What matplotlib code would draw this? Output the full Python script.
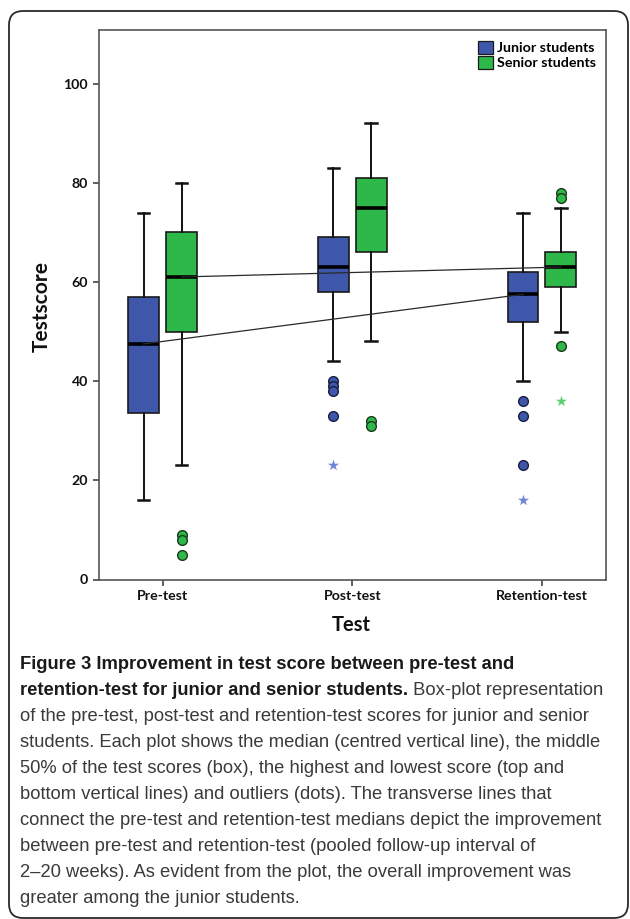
import matplotlib
matplotlib.use("Agg")
import matplotlib.pyplot as plt
import matplotlib.patches as mpatches
import matplotlib.transforms as mtrans
import numpy as np

# ---------------- data ----------------
tests = ["Pre-test", "Post-test", "Retention-test"]
groups = ["Junior students", "Senior students"]

junior_whislo = [16, 44, 40]
junior_q1 = [33.5, 58, 52]
junior_med = [47.5, 63, 57.5]
junior_q3 = [57, 69, 62]
junior_whishi = [74, 83, 74]
junior_outliers = [[], [40, 39, 38, 33], [36, 33, 23]]
junior_extremes = [[], [23], [16]]

senior_whislo = [23, 48, 50]
senior_q1 = [50, 66, 59]
senior_med = [61, 75, 63]
senior_q3 = [70, 81, 66]
senior_whishi = [80, 92, 75]
senior_outliers = [[9, 8, 5], [32, 31], [78, 77, 47]]
senior_extremes = [[], [], [36]]

yticks = [0, 20, 40, 60, 80, 100]

caption_lines = [
    [("Figure 3 Improvement in test score between pre-test and", "bold")],
    [("retention-test for junior and senior students.", "bold"), (" Box-plot representation", "normal")],
    [("of the pre-test, post-test and retention-test scores for junior and senior", "normal")],
    [("students. Each plot shows the median (centred vertical line), the middle", "normal")],
    [("50% of the test scores (box), the highest and lowest score (top and", "normal")],
    [("bottom vertical lines) and outliers (dots). The transverse lines that", "normal")],
    [("connect the pre-test and retention-test medians depict the improvement", "normal")],
    [("between pre-test and retention-test (pooled follow-up interval of", "normal")],
    [("2\u201320 weeks). As evident from the plot, the overall improvement was", "normal")],
    [("greater among the junior students.", "normal")],
]

# ---------------- style ----------------
W, H = 630, 919
DPI = 100
blue = "#3E57AA"
green = "#2FB84A"
blue_star = "#6E84D6"
green_star = "#5FD070"
chart_font = ["Lato", "DejaVu Sans"]
cap_font = ["Liberation Sans", "DejaVu Sans"]

fig = plt.figure(figsize=(W / DPI, H / DPI), dpi=DPI)
fig.patch.set_facecolor("white")

# outer rounded border (pixel coords)
border = mpatches.FancyBboxPatch((9, H - 918), 619, 907,
                                 boxstyle="round,pad=0,rounding_size=14",
                                 transform=mtrans.IdentityTransform(),
                                 fill=False, edgecolor="#2a2a2a", linewidth=1.3)
fig.patches.append(border)

ax_l, ax_r, ax_t, ax_b = 99, 606, 30, 579.5
ax = fig.add_axes([ax_l / W, 1 - ax_b / H, (ax_r - ax_l) / W, (ax_b - ax_t) / H])

x = np.arange(len(tests))
off = 0.1
bw = 0.162


def make_stats(whislo, q1, med, q3, whishi, fl):
    return [dict(whislo=a, q1=b, med=c, q3=d, whishi=e, fliers=f)
            for a, b, c, d, e, f in zip(whislo, q1, med, q3, whishi, fl)]


for stats, pos, col in [
    (make_stats(junior_whislo, junior_q1, junior_med, junior_q3, junior_whishi, junior_outliers), x - off, blue),
    (make_stats(senior_whislo, senior_q1, senior_med, senior_q3, senior_whishi, senior_outliers), x + off, green),
]:
    ax.bxp(stats, positions=pos, widths=bw, patch_artist=True, manage_ticks=False,
           capwidths=0.06,
           boxprops=dict(facecolor=col, edgecolor="#1a1a1a", linewidth=1.2),
           medianprops=dict(color="black", linewidth=2.6, solid_capstyle="butt"),
           whiskerprops=dict(color="#111111", linewidth=1.4),
           capprops=dict(color="#111111", linewidth=1.8),
           flierprops=dict(marker="o", markerfacecolor=col, markeredgecolor="#1a3a1a" if col == green else "#1a1f40",
                           markersize=7.0, markeredgewidth=1.0, linestyle="none"))

# extreme outliers (stars)
for i, vals in enumerate(junior_extremes):
    if vals:
        ax.scatter([x[i] - off] * len(vals), vals, marker="*", s=70, color=blue_star, zorder=4, linewidths=0)
for i, vals in enumerate(senior_extremes):
    if vals:
        ax.scatter([x[i] + off] * len(vals), vals, marker="*", s=70, color=green_star, zorder=4, linewidths=0)

# transverse lines connecting pre-test and retention-test medians
ax.plot([x[0] - off, x[2] - off], [junior_med[0], junior_med[2]], color="#2a2a2a", linewidth=0.9, zorder=5)
ax.plot([x[0] + off, x[2] + off], [senior_med[0], senior_med[2]], color="#2a2a2a", linewidth=0.9, zorder=5)

ax.set_xlim(-0.335, 2.338)
ax.set_ylim(0, 110.8)
ax.set_yticks(yticks)
ax.set_yticklabels([str(v) for v in yticks])
ax.set_xticks(x)
ax.set_xticklabels(tests)
for s in ax.spines.values():
    s.set_color("#555555")
    s.set_linewidth(1.2)
ax.tick_params(axis="both", direction="out", length=4.3, width=1.2, color="#444444", pad=3.5)
for lab in ax.get_xticklabels() + ax.get_yticklabels():
    lab.set_fontfamily(chart_font)
    lab.set_fontweight("bold")
    lab.set_fontsize(10.2)
    lab.set_color("#111111")

fig.text(42 / W, 1 - 307 / H, "Testscore", rotation=90, ha="center", va="center",
         fontfamily=chart_font, fontweight="bold", fontsize=15, color="#111111")
fig.text(351 / W, 1 - 625 / H, "Test", ha="center", va="center",
         fontfamily=chart_font, fontweight="bold", fontsize=14.5, color="#111111")

handles = [mpatches.Patch(facecolor=blue, edgecolor="#1a1a1a", linewidth=0.9),
           mpatches.Patch(facecolor=green, edgecolor="#1a1a1a", linewidth=0.9)]
leg = ax.legend(handles, groups, loc="upper right", bbox_to_anchor=(596 / W, 1 - 41 / H),
                bbox_transform=fig.transFigure, frameon=False, borderpad=0, borderaxespad=0,
                handlelength=1.0, handleheight=1.0, handletextpad=0.3, labelspacing=0.12,
                prop=dict(family=chart_font, weight="bold", size=10.3))

# ---------------- caption ----------------
renderer = fig.canvas.get_renderer()
cap_size = 13.2
base0 = 669
for i, segs in enumerate(caption_lines):
    xp = 20
    yb = base0 + 26 * i
    for txt, wt in segs:
        t = fig.text(xp / W, 1 - yb / H, txt, ha="left", va="baseline",
                     fontfamily=cap_font, fontweight=wt, fontsize=cap_size,
                     color="#1a1a1a" if wt == "bold" else "#3a3a3a")
        bb = t.get_window_extent(renderer)
        xp += bb.width

fig.savefig("out.png", dpi=DPI, facecolor="white")
